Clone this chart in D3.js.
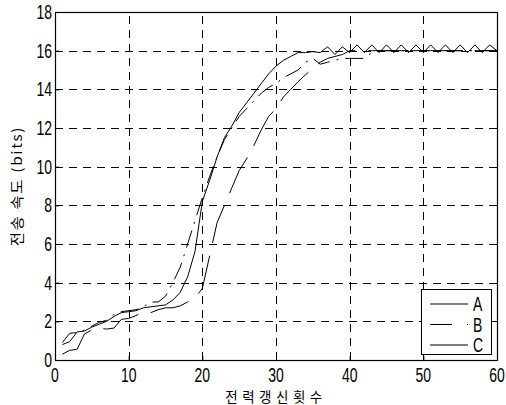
<!DOCTYPE html>
<html>
<head>
<meta charset="utf-8">
<script src="https://cdn.jsdelivr.net/npm/d3@7"></script>
<style>
  body { margin: 0; background: #fff; }
  svg { display: block; }
  text { font-family: "Liberation Sans", Arial, sans-serif; fill: #000; }
  .kr { font-family: "Noto Sans CJK KR", sans-serif; }
</style>
</head>
<body>
<div id="chart"></div>
<script>
// values, one point per update step
const steps = d3.range(1, 61);
const seriesA = [0.8, 0.95, 1.45, 1.5, 1.7, 1.85, 2.0, 2.25, 2.45, 2.5,
  2.55, 2.7, 2.75, 2.8, 2.85, 3.1, 3.5, 4.3, 5.6, 8.2,
  9.3, 10.5, 11.5, 12.1, 12.8, 13.3, 13.8, 14.3, 14.8, 15.2,
  15.5, 15.7, 15.9, 15.9, 15.95, 15.9, 16.2, 15.8, 16.2, 15.9,
  16.3, 15.9, 16.3, 15.9, 16.3, 15.9, 16.3, 15.9, 16.3, 15.9,
  16.3, 15.9, 16.3, 15.9, 16.3, 15.9, 16.3, 15.9, 16.3, 16.0];
const seriesB = [0.9, 1.38, 1.42, 1.55, 1.75, 1.95, 2.05, 2.35, 2.5, 2.55,
  2.6, 2.75, 3.0, 3.0, 3.3, 4.0, 4.8, 6.0, 7.2, 8.4,
  9.5, 10.5, 11.4, 12.0, 12.6, 13.0, 13.4, 13.8, 14.1, 14.3,
  14.6, 14.8, 15.0, 15.4, 15.6, 15.3, 15.4, 15.5, 15.6, 15.6,
  15.6, 15.6, 15.9, 16.0, 16.0, 16.0, 16.0, 16.0, 16.0, 16.0,
  16.0, 16.0, 16.0, 16.0, 16.0, 16.0, 16.0, 16.0, 16.0, 16.0];
const seriesC = [0.3, 0.5, 0.55, 1.35, 1.55, 1.65, 1.6, 1.65, 2.1, 2.15,
  2.3, 2.5, 2.45, 2.6, 2.7, 2.7, 2.8, 3.0, 3.2, 3.7,
  5.4, 7.1, 8.0, 8.9, 9.8, 10.4, 11.1, 11.9, 12.6, 13.0,
  13.6, 14.0, 14.4, 14.75, 15.1, 15.4, 15.6, 15.7, 15.8, 16.0,
  16.0, 16.0, 16.0, 16.0, 16.0, 16.0, 16.0, 16.0, 16.0, 16.0,
  16.0, 16.0, 16.0, 16.0, 16.0, 16.0, 16.0, 16.0, 16.0, 16.0];
const seriesNames = ["A", "B", "C"];
const xTicks = [0, 10, 20, 30, 40, 50, 60];
const yTicks = [0, 2, 4, 6, 8, 10, 12, 14, 16, 18];
const xTitle = "전력갱신횟수";
const yTitle = "전송 속도 (bits)";

const W = 506, H = 405;
const plotL = 55, plotR = 497, plotT = 12, plotB = 360;

const svg = d3.select("#chart").append("svg")
  .attr("width", W).attr("height", H);

const x = d3.scaleLinear().domain([0, 60]).range([plotL, plotR]);
const y = d3.scaleLinear().domain([0, 18]).range([plotB, plotT]);

// dashed grid
const grid = svg.append("g").attr("stroke", "#000").attr("stroke-width", 1)
  .attr("stroke-dasharray", "8,6").attr("shape-rendering", "crispEdges");
grid.selectAll(".gx").data(xTicks.slice(1, -1)).enter().append("line")
  .attr("x1", d => Math.round(x(d)) + 0.5).attr("x2", d => Math.round(x(d)) + 0.5)
  .attr("y1", plotB).attr("y2", plotT);
grid.selectAll(".gy").data(yTicks.slice(1, -1)).enter().append("line")
  .attr("y1", d => Math.round(y(d)) + 0.5).attr("y2", d => Math.round(y(d)) + 0.5)
  .attr("x1", plotL).attr("x2", plotR);

// axes (ticks only, labels drawn below so they can be stretched)
svg.append("g").attr("transform", `translate(0,${plotB})`)
  .call(d3.axisBottom(x).tickValues(xTicks).tickSize(-4).tickFormat(""))
  .call(g => g.select(".domain").remove());
svg.append("g").attr("transform", `translate(${plotL},0)`)
  .call(d3.axisLeft(y).tickValues(yTicks).tickSize(-4).tickFormat(""))
  .call(g => g.select(".domain").remove());

svg.append("rect")
  .attr("x", plotL + 0.5).attr("y", plotT + 0.5)
  .attr("width", plotR - plotL).attr("height", plotB - plotT)
  .attr("fill", "none").attr("stroke", "#000").attr("stroke-width", 1.2);

// tick labels
svg.selectAll(".xl").data(xTicks).enter().append("text")
  .attr("transform", d => `translate(${x(d)},${plotB + 22}) scale(1,1.45)`)
  .attr("text-anchor", "middle").attr("font-size", 14)
  .text(d => d);
svg.selectAll(".yl").data(yTicks).enter().append("text")
  .attr("transform", d => `translate(${plotL - 3},${y(d) + 7}) scale(1,1.45)`)
  .attr("text-anchor", "end").attr("font-size", 14)
  .text(d => d);

// titles
svg.append("text").attr("class", "kr")
  .attr("transform", `translate(${(plotL + plotR) / 2},${402})`)
  .attr("text-anchor", "middle").attr("font-size", 13.5)
  .attr("letter-spacing", 4.5)
  .text(xTitle);
svg.append("text").attr("class", "kr")
  .attr("transform", `translate(22,${(plotT + plotB) / 2}) rotate(-90) scale(1.1,1)`)
  .attr("text-anchor", "middle").attr("font-size", 14)
  .attr("letter-spacing", 1.5)
  .text(yTitle);

// lines
const line = d3.line().x((d, i) => x(steps[i])).y(d => y(d));
const styles = [
  { data: seriesA, dash: null },
  { data: seriesB, dash: "18,7,2,7" },
  { data: seriesC, dash: "40,13" }
];
svg.append("g").selectAll("path").data(styles).enter().append("path")
  .attr("d", d => line(d.data))
  .attr("fill", "none").attr("stroke", "#000").attr("stroke-width", 1)
  .attr("stroke-dasharray", d => d.dash);

// legend
const lg = svg.append("g").attr("transform", "translate(421,289)");
lg.append("rect").attr("x", 0.5).attr("y", 0.5).attr("width", 70).attr("height", 65)
  .attr("fill", "#fff").attr("stroke", "#000").attr("stroke-width", 1);
const legendDash = [null, "22,15,2,15", null];
const rows = lg.selectAll(".row").data(seriesNames).enter().append("g")
  .attr("transform", (d, i) => `translate(0,${15 + i * 20.5})`);
rows.append("line").attr("x1", 9).attr("x2", 47).attr("y1", 0).attr("y2", 0)
  .attr("stroke", "#000").attr("stroke-width", 1)
  .attr("stroke-dasharray", (d, i) => legendDash[i]);
rows.append("text")
  .attr("transform", "translate(52,7) scale(1,1.4)")
  .attr("font-size", 14)
  .text(d => d);
</script>
</body>
</html>
